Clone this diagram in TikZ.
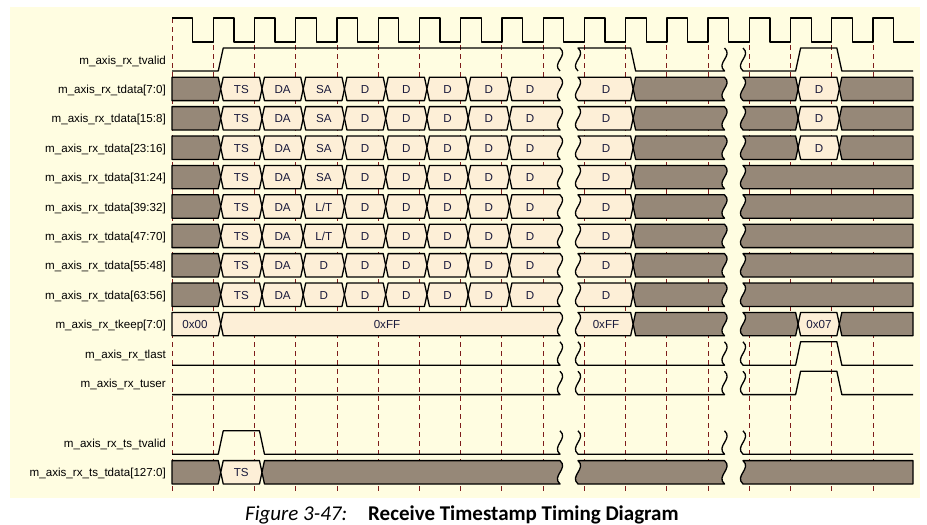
\documentclass[tikz,border=0pt]{standalone}
\usepackage{fontspec}
\setmainfont{Liberation Sans}
\newfontfamily\capfont{Carlito}
\usepackage{xcolor}
\usepackage{tikz}
\usetikzlibrary{positioning}
\definecolor{panel}{HTML}{FFFDE1}
\definecolor{cream}{HTML}{FDEFD7}
\definecolor{idlegray}{HTML}{968878}
\definecolor{tickred}{HTML}{7E1C1C}
\definecolor{valink}{HTML}{1A1A3C}

\begin{document}
\begin{tikzpicture}[x=1pt, y=-1pt, font=\fontsize{11.6}{13}\selectfont,
  sig/.style={line width=1.3pt, line join=round},
  bus/.style={draw=black, line width=1.3pt, line join=round, fill=cream},
  idle/.style={bus, fill=idlegray},
  tick/.style={draw=tickred, line width=0.9pt, dash pattern=on 5pt off 4pt},
  lbl/.style={anchor=base east, inner sep=0pt},
  val/.style={anchor=base, inner sep=0pt, text=valink}]

\useasboundingbox (0,0) rectangle (927,525);
\fill[panel] (10,7) rectangle (920,498);

% 虚线:时钟沿
\foreach \k in {0,...,17}
  \draw[tick] ({172+41.24*\k},18) -- ({172+41.24*\k},491);

% 时钟
\draw[sig] (172,18) \foreach \k in {0,...,16}{ -- ++(20.62,0) -- ++(0,24) -- ++(20.62,0) -- ++(0,-24)}
  -- ++(20.62,0) -- ++(0,24) -- ++(20.62,0);

% tvalid
\node[lbl] (tvalid) at (166,64.2) {m\_axis\_rx\_tvalid};
\draw[sig] (172,71) -- (218.24,71) -- (223.24,48) -- (560,48) .. controls +(9,8) and +(-9,-8) .. (560,71);
\draw[sig] (578,71) .. controls +(-9,-8) and +(9,8) .. (578,48) -- (630.64,48) -- (635.64,71)
  -- (724.5,71) .. controls +(-9,-8) and +(9,8) .. (724.5,48);
\draw[sig] (743,48) .. controls +(9,8) and +(-9,-8) .. (743,71) -- (795.6,71) -- (800.6,48)
  -- (836.84,48) -- (841.84,71) -- (913,71);

% tdata 八个字节
\foreach \r/\lab/\third/\tail in {0/{7:0}/SA/1, 1/{15:8}/SA/1, 2/{23:16}/SA/1, 3/{31:24}/SA/0,
    4/{39:32}/{L/T}/0, 5/{47:70}/{L/T}/0, 6/{55:48}/D/0, 7/{63:56}/D/0}{
  \pgfmathsetmacro{\y}{88.9+29.4*\r}
  \pgfmathsetmacro{\yt}{\y-11.7}
  \pgfmathsetmacro{\yb}{\y+11.7}
  \node[lbl] (dl\r) at (166,\y+4.6) {m\_axis\_rx\_tdata[\lab]};
  \filldraw[idle] (172,\yt) -- (218.24,\yt) -- (220.74,\y) -- (218.24,\yb) -- (172,\yb) -- cycle;
  \foreach \k in {1,...,7}
    \filldraw[bus] ({179.5+41.24*\k},\y) -- ++(2.5,-11.7) -- ++(36.24,0) -- ++(2.5,11.7)
      -- ++(-2.5,11.7) -- ++(-36.24,0) -- cycle;
  \filldraw[bus] (509.42,\y) -- (511.92,\yt) -- (560,\yt) .. controls +(9,8) and +(-9,-8) .. (560,\yb)
    -- (511.92,\yb) -- cycle;
  \node[val] (ts\r) at (241.34,\y+4.5) {TS};
  \node[val] (da\r) at (282.58,\y+4.5) {DA};
  \node[val] (th\r) at (323.82,\y+4.5) {\third};
  \foreach \k in {4,...,8}
    \node[val] (d\r-\k) at ({200.1+41.24*\k},\y+4.5) {D};
  \filldraw[bus] (578,\yt) -- (630.64,\yt) -- (633.14,\y) -- (630.64,\yb) -- (578,\yb)
    .. controls +(-9,-8) and +(9,8) .. (578,\yt) -- cycle;
  \node[val] (e\r) at (606,\y+4.5) {D};
  \filldraw[idle] (633.14,\y) -- (635.64,\yt) -- (724.5,\yt) .. controls +(9,8) and +(-9,-8) .. (724.5,\yb)
    -- (635.64,\yb) -- cycle;
  \ifnum\tail=1
    \filldraw[idle] (743,\yt) -- (795.6,\yt) -- (798.1,\y) -- (795.6,\yb) -- (743,\yb)
      .. controls +(-9,-8) and +(9,8) .. (743,\yt) -- cycle;
    \filldraw[bus] (798.1,\y) -- (800.6,\yt) -- (836.84,\yt) -- (839.34,\y) -- (836.84,\yb) -- (800.6,\yb) -- cycle;
    \node[val] (f\r) at (819,\y+4.5) {D};
    \filldraw[idle] (839.34,\y) -- (841.84,\yt) -- (913,\yt) -- (913,\yb) -- (841.84,\yb) -- cycle;
  \else
    \filldraw[idle] (743,\yt) -- (913,\yt) -- (913,\yb) -- (743,\yb)
      .. controls +(-9,-8) and +(9,8) .. (743,\yt) -- cycle;
  \fi
}

% tkeep
\node[lbl] (keepl) at (166,328.7) {m\_axis\_rx\_tkeep[7:0]};
\filldraw[bus] (172,312.4) -- (218.24,312.4) -- (220.74,324.1) -- (218.24,335.8) -- (172,335.8) -- cycle;
\node[val] (k00) at (195,328.6) {0x00};
\filldraw[bus] (220.74,324.1) -- (223.24,312.4) -- (560,312.4) .. controls +(9,8) and +(-9,-8) .. (560,335.8)
  -- (223.24,335.8) -- cycle;
\node[val] (kff) at (387,328.6) {0xFF};
\filldraw[bus] (578,312.4) -- (630.64,312.4) -- (633.14,324.1) -- (630.64,335.8) -- (578,335.8)
  .. controls +(-9,-8) and +(9,8) .. (578,312.4) -- cycle;
\node[val] (kff2) at (606,328.6) {0xFF};
\filldraw[idle] (633.14,324.1) -- (635.64,312.4) -- (724.5,312.4) .. controls +(9,8) and +(-9,-8) .. (724.5,335.8)
  -- (635.64,335.8) -- cycle;
\filldraw[idle] (743,312.4) -- (795.6,312.4) -- (798.1,324.1) -- (795.6,335.8) -- (743,335.8)
  .. controls +(-9,-8) and +(9,8) .. (743,312.4) -- cycle;
\filldraw[bus] (798.1,324.1) -- (800.6,312.4) -- (836.84,312.4) -- (839.34,324.1) -- (836.84,335.8)
  -- (800.6,335.8) -- cycle;
\node[val] (k07) at (819,328.6) {0x07};
\filldraw[idle] (839.34,324.1) -- (841.84,312.4) -- (913,312.4) -- (913,335.8) -- (841.84,335.8) -- cycle;

% tlast / tuser
\foreach \n/\y in {tlast/353.5, tuser/382.9}{
  \pgfmathsetmacro{\hi}{\y-11.7}
  \pgfmathsetmacro{\lo}{\y+11.7}
  \node[lbl] (\n) at (166,\y+4.6) {m\_axis\_rx\_\n};
  \draw[sig] (172,\lo) -- (560,\lo) .. controls +(-9,-8) and +(9,8) .. (560,\hi);
  \draw[sig] (578,\hi) .. controls +(9,8) and +(-9,-8) .. (578,\lo) -- (724.5,\lo)
    .. controls +(-9,-8) and +(9,8) .. (724.5,\hi);
  \draw[sig] (743,\hi) .. controls +(9,8) and +(-9,-8) .. (743,\lo) -- (795.6,\lo) -- (800.6,\hi)
    -- (836.84,\hi) -- (841.84,\lo) -- (913,\lo);
}

% 时间戳
\node[lbl] (tsvl) at (166,447.2) {m\_axis\_rx\_ts\_tvalid};
\draw[sig] (172,454.2) -- (218.24,454.2) -- (223.24,430.8) -- (259.48,430.8) -- (264.48,454.2)
  -- (560,454.2) .. controls +(-9,-8) and +(9,8) .. (560,430.8);
\draw[sig] (578,430.8) .. controls +(9,8) and +(-9,-8) .. (578,454.2) -- (724.5,454.2)
  .. controls +(-9,-8) and +(9,8) .. (724.5,430.8);
\draw[sig] (743,430.8) .. controls +(9,8) and +(-9,-8) .. (743,454.2) -- (913,454.2);

\node[lbl] (tsdl) at (166,476.9) {m\_axis\_rx\_ts\_tdata[127:0]};
\filldraw[idle] (172,460.6) -- (218.24,460.6) -- (220.74,472.3) -- (218.24,484) -- (172,484) -- cycle;
\filldraw[bus] (220.74,472.3) -- (223.24,460.6) -- (259.48,460.6) -- (261.98,472.3) -- (259.48,484)
  -- (223.24,484) -- cycle;
\node[val] (tsv) at (241.3,476.8) {TS};
\filldraw[idle] (261.98,472.3) -- (264.48,460.6) -- (560,460.6) .. controls +(9,8) and +(-9,-8) .. (560,484)
  -- (264.48,484) -- cycle;
\filldraw[idle] (578,460.6) -- (724.5,460.6) .. controls +(9,8) and +(-9,-8) .. (724.5,484) -- (578,484)
  .. controls +(-9,-8) and +(9,8) .. (578,460.6) -- cycle;
\filldraw[idle] (743,460.6) -- (913,460.6) -- (913,484) -- (743,484)
  .. controls +(-9,-8) and +(9,8) .. (743,460.6) -- cycle;

% 图题
\node[anchor=base west, inner sep=0pt, font=\capfont\fontsize{21}{24}\selectfont\itshape] (figno)
  at (245,520) {Figure 3-47:};
\node[anchor=base west, inner sep=0pt, font=\capfont\fontsize{21}{24}\selectfont\bfseries] (figtitle)
  at (368,520) {Receive Timestamp Timing Diagram};
\end{tikzpicture}
\end{document}
